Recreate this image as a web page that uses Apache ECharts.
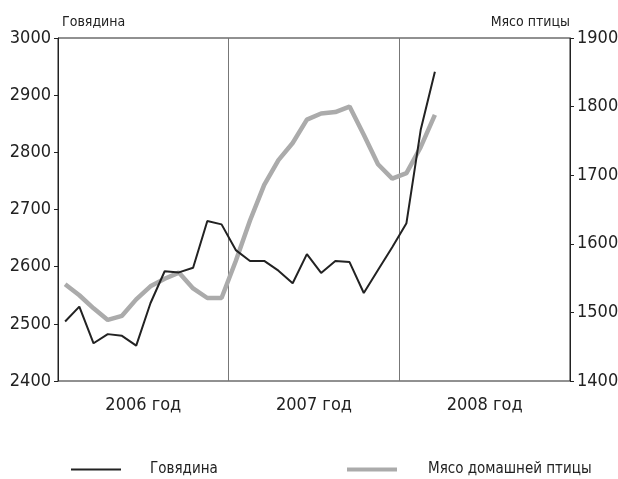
<!DOCTYPE html>
<html>
<head>
<meta charset="utf-8">
<script src="https://cdn.jsdelivr.net/npm/echarts@6/dist/echarts.min.js"></script>
<style>
  html, body { margin: 0; padding: 0; background: #fff; }
  #chart { width: 618px; height: 479px; }
</style>
</head>
<body>
<div id="chart"></div>
<script>
// monthly data, Jan 2006 .. Mar 2008
let years = ["2006 год", "2007 год", "2008 год"];
let months = [];
for (let y = 2006; y <= 2008; y++) {
  for (let m = 1; m <= 12; m++) months.push(y + "-" + m);
}
let beef = [2504, 2530, 2466, 2482, 2479, 2462, 2536, 2592, 2590, 2598, 2680, 2674,
            2629, 2610, 2610, 2593, 2571, 2622, 2589, 2610, 2608, 2554, 2594, 2634,
            2676, 2839, 2941];
let poultry = [1541, 1525, 1506, 1489, 1495, 1519, 1538, 1549, 1558, 1535, 1521, 1521,
               1575, 1634, 1686, 1722, 1747, 1781, 1790, 1792, 1800, 1759, 1716, 1695,
               1703, 1741, 1788];

let font = "'Liberation Sans Narrow', 'DejaVu Sans Condensed', sans-serif";
let ink = "#222";
let plain = function (v) { return String(v); };

var myChart = echarts.init(document.getElementById("chart"));

var option = {
  animation: false,
  textStyle: { fontFamily: font, color: ink },
  grid: {
    left: 58, right: 48, top: 38, bottom: 98,
    containLabel: false, outerBoundsMode: "none",
    show: true, borderColor: ink, borderWidth: 1
  },
  legend: [
    {
      data: ["Говядина"],
      left: 66, top: 457,
      icon: "rect", itemWidth: 50, itemHeight: 2,
      textStyle: { fontFamily: font, fontSize: 15, color: ink, padding: [0, 0, 0, 24] }
    },
    {
      data: ["Мясо домашней птицы"],
      left: 342, top: 457,
      icon: "rect", itemWidth: 50, itemHeight: 4,
      textStyle: { fontFamily: font, fontSize: 15, color: ink, padding: [0, 0, 0, 26] }
    }
  ],
  xAxis: [
    { type: "category", data: months, show: false, boundaryGap: true },
    {
      type: "category", data: years, position: "bottom", boundaryGap: true,
      axisLine: { show: false },
      axisTick: { show: false },
      axisLabel: { fontFamily: font, fontSize: 18, color: ink, margin: 15 },
      splitLine: { show: true, lineStyle: { color: "#777", width: 1 } }
    }
  ],
  yAxis: [
    {
      type: "value", min: 2400, max: 3000, interval: 100,
      name: "Говядина", nameLocation: "end", nameGap: 9,
      nameTextStyle: { fontFamily: font, fontSize: 14, color: ink, align: "left", padding: [0, 0, 0, 4] },
      axisLine: { show: true, lineStyle: { color: ink } },
      axisTick: { show: true, length: 4, lineStyle: { color: ink } },
      axisLabel: { fontFamily: font, fontSize: 18, color: ink, margin: 7, formatter: plain },
      splitLine: { show: false }
    },
    {
      type: "value", min: 1400, max: 1900, interval: 100, position: "right",
      name: "Мясо птицы", nameLocation: "end", nameGap: 9,
      nameTextStyle: { fontFamily: font, fontSize: 14, color: ink, align: "right" },
      axisLine: { show: true, lineStyle: { color: ink } },
      axisTick: { show: true, length: 4, lineStyle: { color: ink } },
      axisLabel: { fontFamily: font, fontSize: 18, color: ink, margin: 7, formatter: plain },
      splitLine: { show: false }
    }
  ],
  series: [
    {
      name: "Мясо домашней птицы", type: "line", xAxisIndex: 0, yAxisIndex: 1,
      data: poultry, symbol: "none", color: "#ababab",
      lineStyle: { width: 4.5, color: "#ababab" }
    },
    {
      name: "Говядина", type: "line", xAxisIndex: 0, yAxisIndex: 0,
      data: beef, symbol: "none", color: ink,
      lineStyle: { width: 2, color: ink }
    }
  ]
};

option && myChart.setOption(option);
</script>
</body>
</html>
